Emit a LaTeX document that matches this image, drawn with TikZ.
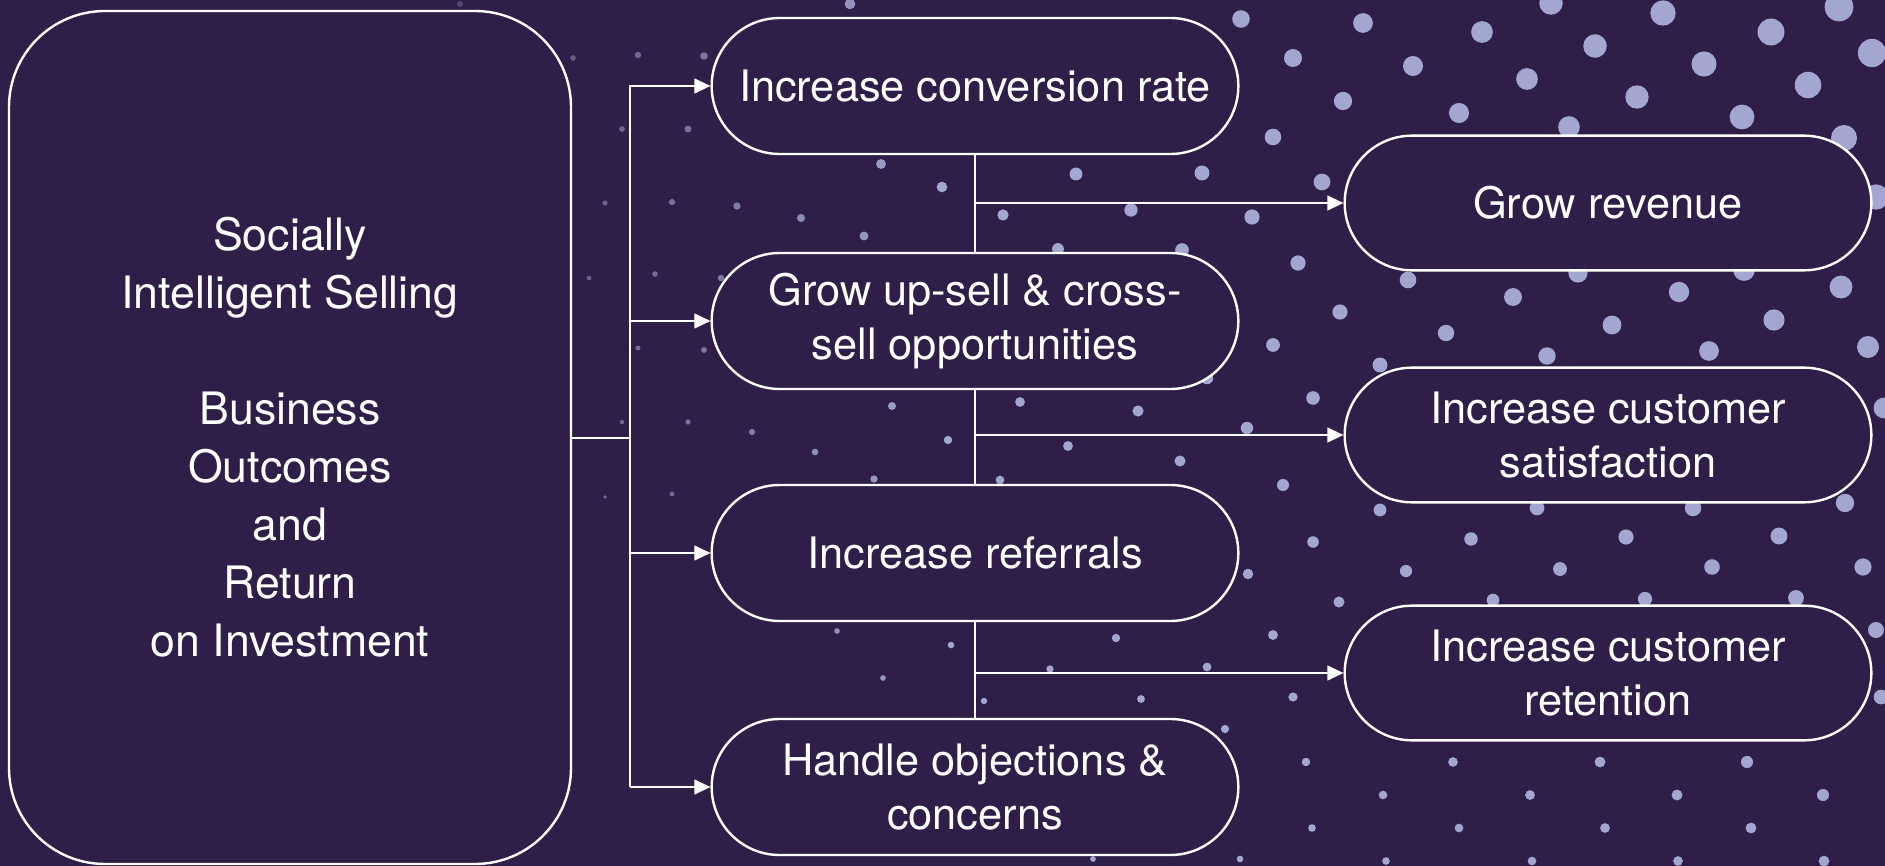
\documentclass[tikz,border=0pt]{standalone}
\usepackage{fontspec}
\setmainfont{TeX Gyre Heros}
\usetikzlibrary{arrows.meta,shapes.misc}

\definecolor{bgcol}{RGB}{47,31,72}
\definecolor{dotcol}{RGB}{163,166,208}

\tikzset{every picture/.style={line width=0.75pt}}
\tikzset{
  bigbox/.style={draw=white, line width=1.8pt, fill=bgcol, rounded corners=72pt,
    minimum width=421.5pt, minimum height=639.75pt, text=white, align=center,
    font=\fontsize{33.5}{43.5}\selectfont},
  goalbox/.style={rounded rectangle, draw=white, line width=1.8pt, fill=bgcol,
    minimum width=399pt, minimum height=102pt, text=white, align=center,
    inner sep=2pt, font=\fontsize{32.5}{40}\selectfont},
  resultbox/.style={goalbox, minimum width=399pt, minimum height=101pt},
  link/.style={draw=white, line width=1.5pt},
  linkarrow/.style={link, -{Triangle[length=12pt,width=11pt]}}
}

\begin{document}
\begin{tikzpicture}[x=0.75pt,y=0.75pt,yscale=-1,xscale=1]
%set diagram to 1885 x 866
\useasboundingbox (0,0) rectangle (1885,866);
\fill[bgcol] (0,0) rectangle (1885,866);
\clip (0,0) rectangle (1885,866);

%Background dots
\foreach \px/\py in {
  1241/19,1363/23,1482/32,1551/3,1663/13,1771/32,1839/7,1872/53,1293/58,1413/66,
  1595/46,1704/64,1527/79,1637/97,1808/85,1343/101,1459/113,1569/127,1742/117,1844/138,
  1273/137,1202/173,1322/182,1252/217,1876/197,1298/263,1408/280,1513/297,1679/292,1841/287,
  1578/273,1744/270,1076/174,1131/210,1003/215,1058/249,1182/250,1340/312,1273/345,1207/378,
  1313/398,1020/402,1138/411,1247/428,1068/446,1180/461,1283/485,1000/480,1313/542,1248/574,
  1339/602,1116/638,1273/635,1050/669,1207/667,1141/699,1293/697,1225/729,1306/762,1312/828,
  1240/859,1093/859,1446/333,1612/325,1774/320,1547/356,1709/351,1868/347,1380/365,1884/408,
  1380/510,1537/508,1693/508,1845/503,1471/539,1626/537,1779/536,1406/571,1560/569,1712/567,
  1863/567,1493/600,1645/599,1796/598,1876/630,1881/697,1453/762,1600/762,1747/762,1383/795,
  1530/795,1677/795,1823/795,1459/828,1605/828,1751/828,1386/861,1532/861,1678/861,1824/861,
  850/4,573/58,638/55,704/56,622/129,688/129,881/164,942/187,605/203,672/202,
  737/206,801/218,864/236,589/278,655/274,721/278,638/348,704/350,892/406,688/422,
  622/422,752/432,815/452,948/440,874/479,672/494,605/497,951/645,883/678,837/631,
  984/701,460/4}{
  \pgfmathsetmacro{\dotf}{max(0.2,0.45+0.55*(\px-1000)/885)}
  \pgfmathsetmacro{\dotr}{1.1*\dotf*(5+8.5*(1-\py/866))}
  \pgfmathsetmacro{\doto}{min(1,0.45+(\px-560)/700)}
  \fill[dotcol, opacity=\doto] (\px,\py) circle (\dotr);
}

%Shape: Rounded Rectangle, left
\node[bigbox] (sis) at (290,437.5) {Socially\\Intelligent Selling\\[43.5pt]Business\\Outcomes\\and\\Return\\on Investment};

%Shape: Rounded Rectangles, middle column
\node[goalbox] (conv) at (975,86) {Increase conversion rate};
\node[goalbox] (upsell) at (975,321) {Grow up-sell \& cross-\\sell opportunities};
\node[goalbox] (refer) at (975,553) {Increase referrals};
\node[goalbox] (objec) at (975,787) {Handle objections \&\\concerns};

%Shape: Rounded Rectangles, right column
\node[resultbox] (revenue) at (1608,203) {Grow revenue};
\node[resultbox] (satisf) at (1608,435) {Increase customer\\satisfaction};
\node[resultbox] (retain) at (1608,673) {Increase customer\\retention};

%Straight Lines, fork
\coordinate (fork) at (630,437.5);
\draw[link] (sis.east) -- (fork);
\draw[linkarrow] (fork |- objec.west) -- (fork |- conv.west) -- (conv.west);
\draw[linkarrow] (fork |- upsell.west) -- (upsell.west);
\draw[linkarrow] (fork |- refer.west) -- (refer.west);
\draw[linkarrow] (fork |- objec.west) -- (objec.west);

%Straight Lines, middle to right
\draw[link] (conv.south) -- (upsell.north);
\draw[link] (upsell.south) -- (refer.north);
\draw[link] (refer.south) -- (objec.north);
\draw[linkarrow] (conv.south |- revenue.west) -- (revenue.west);
\draw[linkarrow] (conv.south |- satisf.west) -- (satisf.west);
\draw[linkarrow] (conv.south |- retain.west) -- (retain.west);

\end{tikzpicture}
\end{document}
